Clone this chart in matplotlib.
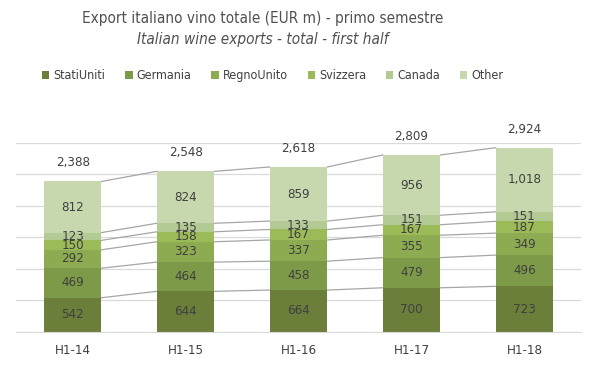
import matplotlib.pyplot as plt
import numpy as np

periods = ['H1-14', 'H1-15', 'H1-16', 'H1-17', 'H1-18']
countries = ['StatiUniti', 'Germania', 'RegnoUnito', 'Svizzera', 'Canada', 'Other']
stati_uniti = [542, 644, 664, 700, 723]
germania = [469, 464, 458, 479, 496]
regno_unito = [292, 323, 337, 355, 349]
svizzera = [150, 158, 167, 167, 187]
canada = [123, 135, 133, 151, 151]
other = [812, 824, 859, 956, 1018]
totals = [2388, 2548, 2618, 2809, 2924]

colors = ['#6b7f3b', '#7d9a48', '#8dab50', '#9bbb59', '#b3ca94', '#c7d8ae']
series = [stati_uniti, germania, regno_unito, svizzera, canada, other]

plt.rcParams['font.family'] = ['DejaVu Sans']
plt.rcParams['font.stretch'] = 'condensed'
txt = '#404040'

fig = plt.figure(figsize=(5.99, 3.78), dpi=100)
ax = fig.add_axes([0.027, 0.122, 0.943, 0.5])

x = np.arange(len(periods))
w = 0.51
bottom = np.zeros(len(periods))
for name, vals, c in zip(countries, series, colors):
    vals = np.array(vals)
    ax.bar(x, vals, w, bottom=bottom, color=c, label=name, zorder=2)
    for xi, b, v in zip(x, bottom, vals):
        ax.text(xi, b + v / 2, f'{v:,}', ha='center', va='center',
                fontsize=9.5, color=txt, zorder=3)
    bottom = bottom + vals
    # connector lines between bars
    for i in range(len(periods) - 1):
        ax.plot([x[i] + w / 2, x[i + 1] - w / 2], [bottom[i], bottom[i + 1]],
                color='#a6a6a6', lw=0.9, zorder=1, clip_on=False)

for xi, t in zip(x, totals):
    ax.text(xi, t + 190, f'{t:,}', ha='center', va='bottom', fontsize=9.5,
            color=txt, clip_on=False)

ax.set_xlim(-0.5, len(periods) - 0.5)
ax.set_ylim(0, 3000)
ax.set_yticks(np.arange(0, 3001, 500))
ax.yaxis.grid(True, color='#d9d9d9', lw=0.9, zorder=0)
ax.tick_params(axis='y', left=False, labelleft=False)
ax.tick_params(axis='x', length=0, pad=9, labelsize=9.5, labelcolor=txt)
ax.set_xticks(x)
ax.set_xticklabels(periods)
for s in ['top', 'right', 'left']:
    ax.spines[s].set_visible(False)
ax.spines['bottom'].set_color('#d9d9d9')
ax.set_axisbelow(True)

fig.text(0.438, 0.952, 'Export italiano vino totale (EUR m) - primo semestre',
         ha='center', va='center', fontsize=11, color='#505050')
fig.text(0.438, 0.895, 'Italian wine exports - total - first half',
         ha='center', va='center', fontsize=11, color='#505050', style='italic')

fig.legend(loc='center', bbox_to_anchor=(0.455, 0.8), ncol=6, frameon=False,
           fontsize=9, handlelength=0.6, handleheight=0.6, handletextpad=0.3,
           columnspacing=1.6, labelcolor=txt)

fig.savefig('out.png', dpi=100)
